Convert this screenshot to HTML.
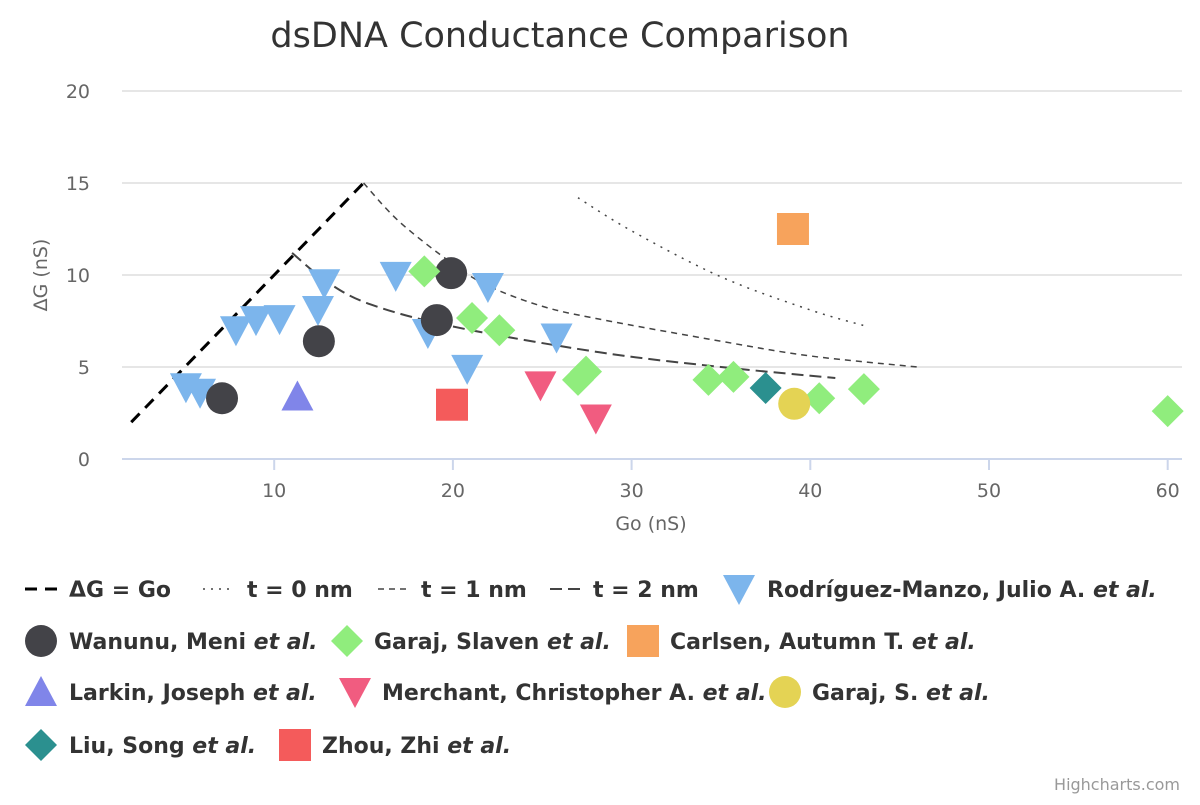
<!DOCTYPE html>
<html><head><meta charset="utf-8"><style>
body{margin:0;background:#fff;}
svg text{font-family:"DejaVu Sans","Liberation Sans",sans-serif;}
</style></head><body>
<svg id="c" width="1200" height="800" xmlns="http://www.w3.org/2000/svg">
<text x="560" y="47" text-anchor="middle" font-size="35" fill="#333">dsDNA Conductance Comparison</text>
<g id="grid"></g><g id="lines"></g><g id="marks"></g><g id="legend"></g>
<text x="651" y="530" text-anchor="middle" font-size="19" fill="#666">Go (nS)</text>
<text transform="translate(47,275) rotate(-90)" text-anchor="middle" font-size="19" fill="#666">ΔG (nS)</text>
<text x="1180" y="790" text-anchor="end" font-size="16" fill="#999">Highcharts.com</text>
</svg>
<script>
const xTicks=[10,20,30,40,50,60];
const yTicks=[0,5,10,15,20];
const lineEq=[[2,2],[15,15]];
const t0=[[27,14.2],[30,12.4],[35,9.9],[40,8.1],[43.2,7.2]];
const t1=[[15,15],[17,12.9],[20,10.6],[22,9.4],[25,8.3],[28.2,7.6],[35,6.4],[40,5.6],[46,5.0]];
const t2=[[11,11.2],[13,9.6],[15.4,8.4],[20,7.2],[28.2,5.8],[35,5.0],[41.4,4.4]];
const rodriguez=[[5.06,3.9],[5.85,3.6],[7.86,7.0],[8.98,7.55],[10.3,7.6],[12.45,8.1],[12.8,9.55],[16.8,9.95],[18.6,6.85],[20.8,4.9],[21.96,9.35],[25.8,6.6]];
const wanunu=[[7.08,3.3],[12.5,6.4],[19.1,7.55],[19.9,10.1]];
const garajSlaven=[[18.4,10.2],[21.07,7.66],[22.6,7.0],[27.0,4.3],[27.45,4.75],[34.3,4.3],[35.7,4.46],[40.5,3.3],[43.0,3.8],[60.0,2.6]];
const carlsen=[[39.03,12.5]];
const larkin=[[11.3,3.4]];
const merchant=[[24.9,4.0],[28.0,2.2]];
const garajS=[[39.1,3.0]];
const liu=[[37.5,3.86]];
const zhou=[[19.95,2.95]];

const NS='http://www.w3.org/2000/svg';
const X=v=>95.5+17.87*v, Y=v=>459-18.4*v;
function mk(tag,at,parent){const e=document.createElementNS(NS,tag);for(const k in at)e.setAttribute(k,at[k]);document.getElementById(parent).appendChild(e);return e;}
yTicks.forEach(t=>{
 const g=mk('line',{x1:122,x2:1182,y1:Y(t),y2:Y(t),stroke:t===0?'#ccd6eb':'#e6e6e6','stroke-width':2},'grid');
 
 
 const l=mk('text',{x:90,y:Y(t)+7,'text-anchor':'end','font-size':19,fill:'#666'},'grid');l.textContent=t;
 
 
});
xTicks.forEach(t=>{
 const k=mk('line',{x1:X(t),x2:X(t),y1:459,y2:470,stroke:'#ccd6eb','stroke-width':2},'grid');
 
 
 const l=mk('text',{x:X(t),y:497,'text-anchor':'middle','font-size':19,fill:'#666'},'grid');l.textContent=t;
 
 
});
function path(pts){
 const p=pts.map(q=>[X(q[0]),Y(q[1])]);let d='M'+p[0][0]+','+p[0][1];
 for(let i=0;i<p.length-1;i++){const p0=p[Math.max(i-1,0)],p1=p[i],p2=p[i+1],p3=p[Math.min(i+2,p.length-1)];
  d+=` C${p1[0]+(p2[0]-p0[0])/6},${p1[1]+(p2[1]-p0[1])/6} ${p2[0]-(p3[0]-p1[0])/6},${p2[1]-(p3[1]-p1[1])/6} ${p2[0]},${p2[1]}`;}
 return d;}
[[lineEq,'#000',3,'12,8','line-dg-eq-go'],[t0,'#444',1.5,'2,6','line-t0'],[t1,'#444',1.5,'6,5','line-t1'],[t2,'#444',2,'12,6','line-t2']].forEach(s=>{
 const e=mk('path',{d:path(s[0]),fill:'none',stroke:s[1],'stroke-width':s[2],'stroke-dasharray':s[3]},'lines');
 
 
});
function shape(type,cx,cy,col,par){
 let e;
 if(type==='circle')e=mk('circle',{cx,cy,r:16,fill:col},par);
 else if(type==='square')e=mk('rect',{x:cx-16,y:cy-16,width:32,height:32,fill:col},par);
 else if(type==='diamond')e=mk('path',{d:`M${cx},${cy-16}L${cx+16},${cy}L${cx},${cy+16}L${cx-16},${cy}Z`,fill:col},par);
 else if(type==='up')e=mk('path',{d:`M${cx},${cy-16}L${cx+16},${cy+14}L${cx-16},${cy+14}Z`,fill:col},par);
 else e=mk('path',{d:`M${cx-16},${cy-14}L${cx+16},${cy-14}L${cx},${cy+16}Z`,fill:col},par);
 return e;}
const series=[[rodriguez,'down','#7cb5ec','rodriguez'],[wanunu,'circle','#434348','wanunu'],[garajSlaven,'diamond','#90ed7d','garaj-slaven'],[carlsen,'square','#f7a35c','carlsen'],[larkin,'up','#8085e9','larkin'],[merchant,'down','#f15c80','merchant'],[garajS,'circle','#e4d354','garaj-s'],[liu,'diamond','#2b908f','liu'],[zhou,'square','#f45b5b','zhou']];
series.forEach(s=>s[0].forEach((p,i)=>{
 const e=shape(s[1],X(p[0]),Y(p[1]),s[2],'marks');
 
 
}));
const leg=[
 ['line',25,589,69,'ΔG = Go',null,'#000','3','12,8'],
 ['line',203,589,247,'t = 0 nm',null,'#444','1.5','2,6'],
 ['line',378,589,421,'t = 1 nm',null,'#444','1.5','6,5'],
 ['line',550,589,593,'t = 2 nm',null,'#444','2','12,6'],
 ['down',739,589,767,'Rodríguez-Manzo, Julio A. ','et al.','#7cb5ec'],
 ['circle',41,641,69,'Wanunu, Meni ','et al.','#434348'],
 ['diamond',347,641,374,'Garaj, Slaven ','et al.','#90ed7d'],
 ['square',643,641,670,'Carlsen, Autumn T. ','et al.','#f7a35c'],
 ['up',41,692,69,'Larkin, Joseph ','et al.','#8085e9'],
 ['down',355,692,382,'Merchant, Christopher A. ','et al.','#f15c80'],
 ['circle',785,692,812,'Garaj, S. ','et al.','#e4d354'],
 ['diamond',41,745,69,'Liu, Song ','et al.','#2b908f'],
 ['square',295,745,322,'Zhou, Zhi ','et al.','#f45b5b']];
leg.forEach((l,i)=>{
 let s;
 if(l[0]==='line')s=mk('line',{x1:l[1],x2:l[1]+32,y1:l[2],y2:l[2],stroke:l[6],'stroke-width':l[7],'stroke-dasharray':l[8]},'legend');
 else s=shape(l[0],l[1],l[2],l[6],'legend');
 
 
 const t=mk('text',{x:l[3],y:l[2]+8,'font-size':22,'font-weight':'bold',fill:'#333'},'legend');
 
 
 t.appendChild(document.createTextNode(l[4]));
 if(l[5]){const it=document.createElementNS(NS,'tspan');it.setAttribute('font-style','italic');it.textContent=l[5];t.appendChild(it);}
});
</script>
</body></html>
